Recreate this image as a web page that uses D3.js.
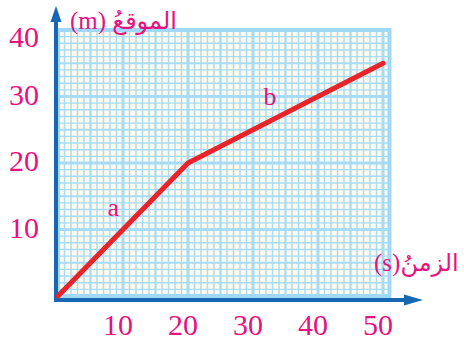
<!DOCTYPE html>
<html>
<head>
<meta charset="utf-8">
<script src="https://cdn.jsdelivr.net/npm/d3@7"></script>
<style>
  body { margin: 0; background: #fff; }
  svg text { font-family: 'Liberation Serif', 'DejaVu Serif', serif; fill: #e8127f; }
</style>
</head>
<body>
<svg id="chart"></svg>
<script>
const times = [0, 20, 50];
const positions = [0, 20, 35];
const xTicks = [10, 20, 30, 40, 50];
const yTicks = [10, 20, 30, 40];
const segNames = ['a', 'b'];
const segAt = [[8.5, 13.2], [32.6, 29.9]];

const width = 464, height = 347;
const svg = d3.select('#chart').attr('width', width).attr('height', height);

const x = d3.scaleLinear().domain([0, 50]).range([58, 383]);
const y = d3.scaleLinear().domain([0, 40]).range([296, 30]);

const xMax = 51;

// paper background
svg.append('rect')
  .attr('x', x(0)).attr('y', y(40))
  .attr('width', x(xMax) - x(0)).attr('height', y(0) - y(40))
  .attr('fill', '#fdf9ec');

const grid = svg.append('g');
const lineW = v => (v % 10 === 0 ? 3 : v % 5 === 0 ? 2.2 : 1.4);

d3.range(1, xMax).forEach(v => {
  grid.append('line')
    .attr('x1', x(v)).attr('x2', x(v))
    .attr('y1', y(0)).attr('y2', y(40))
    .attr('stroke', '#a6dcf6').attr('stroke-width', lineW(v));
});
d3.range(1, 40).forEach(v => {
  grid.append('line')
    .attr('x1', x(0)).attr('x2', x(xMax))
    .attr('y1', y(v)).attr('y2', y(v))
    .attr('stroke', '#a6dcf6').attr('stroke-width', lineW(v));
});
// outer border
grid.append('rect')
  .attr('x', x(0)).attr('y', y(40))
  .attr('width', x(xMax) - x(0)).attr('height', y(0) - y(40))
  .attr('fill', 'none').attr('stroke', '#9fd9f5').attr('stroke-width', 4);

// axes
const axisColor = '#1668b3';
svg.append('line')
  .attr('x1', 56).attr('x2', 56).attr('y1', 302).attr('y2', 20)
  .attr('stroke', axisColor).attr('stroke-width', 4);
svg.append('path')
  .attr('d', 'M56,6 L50.5,22 L61.5,22 Z').attr('fill', axisColor);
svg.append('line')
  .attr('x1', 54).attr('x2', 406).attr('y1', 300).attr('y2', 300)
  .attr('stroke', axisColor).attr('stroke-width', 4);
svg.append('path')
  .attr('d', 'M423,300 L404,294.5 L404,305.5 Z').attr('fill', axisColor);

// tick labels
svg.selectAll('.xlab').data(xTicks).enter().append('text')
  .attr('x', d => x(d) - 5).attr('y', 335)
  .attr('text-anchor', 'middle').attr('font-size', 30)
  .text(d => d);
svg.selectAll('.ylab').data(yTicks).enter().append('text')
  .attr('x', 39)
  .attr('y', d => (d === 40 ? y(d) + 17 : y(d) + 8))
  .attr('text-anchor', 'end').attr('font-size', 30)
  .text(d => d);

// the motion line
const line = d3.line().x((d, i) => x(times[i])).y(d => y(d));
svg.append('path')
  .datum(positions)
  .attr('d', line)
  .attr('fill', 'none')
  .attr('stroke', '#e8232a')
  .attr('stroke-width', 5)
  .attr('stroke-linecap', 'round')
  .attr('stroke-linejoin', 'round');

svg.selectAll('.seg').data(segNames).enter().append('text')
  .attr('x', (d, i) => x(segAt[i][0])).attr('y', (d, i) => y(segAt[i][1]) + 8)
  .attr('text-anchor', 'middle').attr('font-size', 26)
  .text(d => d);

// axis titles
svg.append('text')
  .attr('x', 70).attr('y', 29).attr('font-size', 25)
  .text('(m) ')
  .append('tspan').attr('font-family', 'DejaVu Sans').attr('font-size', 24)
  .text('الموقعُ');
svg.append('text')
  .attr('x', 374).attr('y', 271).attr('font-size', 25)
  .text('(s)')
  .append('tspan').attr('font-family', 'DejaVu Sans').attr('font-size', 24)
  .text('الزمنُ');
</script>
</body>
</html>
